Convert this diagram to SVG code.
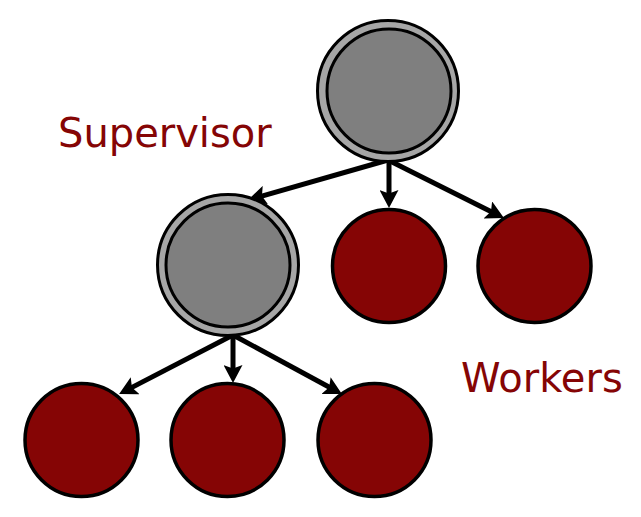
<svg xmlns="http://www.w3.org/2000/svg" width="641" height="517" viewBox="0 0 641 517">
<defs>
<style>
.ring{fill:#a6a6a6;stroke:#000;stroke-width:3}
.core{fill:#7f7f7f;stroke:#000;stroke-width:3}
.worker{fill:#850505;stroke:#000;stroke-width:3.5}
.edge{stroke:#000;stroke-width:5;fill:none;marker-end:url(#ah)}
.lbl{font-family:"DejaVu Sans","Verdana",sans-serif;font-size:40px;fill:#850505}
</style>
<marker id="ah" viewBox="0 0 3.6 3.8" refX="2" refY="1.9" markerWidth="3.6" markerHeight="3.8" orient="auto" markerUnits="strokeWidth">
<path d="M0,0 L3.6,1.9 L0,3.8 L0.7,1.9 z" fill="#000"/>
</marker>
</defs>
<rect width="641" height="517" fill="#fff"/>
<g id="connectors">
<line class="edge" x1="388" y1="160" x2="255.7" y2="197.8"/>
<line class="edge" x1="389" y1="160" x2="389" y2="200"/>
<line class="edge" x1="388" y1="160" x2="496.8" y2="214.4"/>
<line class="edge" x1="233" y1="335" x2="126.2" y2="390.4"/>
<line class="edge" x1="233" y1="335" x2="233" y2="375"/>
<line class="edge" x1="233" y1="335" x2="334.9" y2="390.3"/>
</g>
<g id="supervisor-top">
<circle class="ring" cx="388" cy="91" r="70.5"/>
<circle class="core" cx="389" cy="91" r="62"/>
</g>
<g id="supervisor-mid">
<circle class="ring" cx="228" cy="265" r="70.5"/>
<circle class="core" cx="228" cy="265" r="62"/>
</g>
<g id="worker-1"><circle class="worker" cx="389" cy="266" r="56.5"/></g>
<g id="worker-2"><circle class="worker" cx="534.5" cy="266" r="56.5"/></g>
<g id="worker-3"><circle class="worker" cx="81.5" cy="440" r="56.5"/></g>
<g id="worker-4"><circle class="worker" cx="227.5" cy="440" r="56.5"/></g>
<g id="worker-5"><circle class="worker" cx="374.5" cy="440" r="56.5"/></g>
<g id="label-supervisor"><text class="lbl" x="58" y="147">Supervisor</text></g>
<g id="label-workers"><text class="lbl" x="461" y="392">Workers</text></g>
</svg>
